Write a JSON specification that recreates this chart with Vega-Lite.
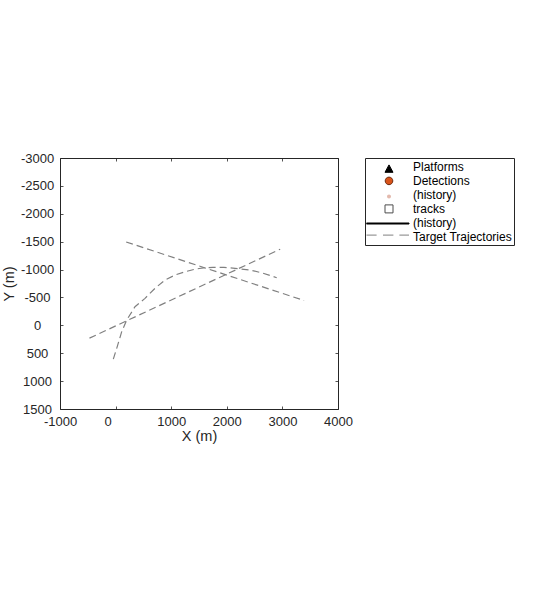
{
  "$schema": "https://vega.github.io/schema/vega-lite/v6.json",
  "description": "Target trajectories in the X-Y plane with a tracking legend.",
  "width": 278,
  "height": 251,
  "autosize": {"type": "none"},
  "padding": {"left": 60, "top": 158, "right": 215, "bottom": 181},
  "background": "white",
  "datasets": {
    "trajectories": [
      {"target": "T1", "step": 0, "x": 190, "y": -1495},
      {"target": "T1", "step": 1, "x": 3390, "y": -445},
      {"target": "T2", "step": 0, "x": -470, "y": 230},
      {"target": "T2", "step": 1, "x": 2960, "y": -1365},
      {"target": "T3", "step": 0, "x": -41, "y": 605},
      {"target": "T3", "step": 1, "x": 20, "y": 412},
      {"target": "T3", "step": 2, "x": 110, "y": 114},
      {"target": "T3", "step": 3, "x": 200, "y": -95},
      {"target": "T3", "step": 4, "x": 349, "y": -334},
      {"target": "T3", "step": 5, "x": 529, "y": -484},
      {"target": "T3", "step": 6, "x": 709, "y": -664},
      {"target": "T3", "step": 7, "x": 889, "y": -813},
      {"target": "T3", "step": 8, "x": 1069, "y": -902},
      {"target": "T3", "step": 9, "x": 1249, "y": -961},
      {"target": "T3", "step": 10, "x": 1420, "y": -1005},
      {"target": "T3", "step": 11, "x": 1578, "y": -1030},
      {"target": "T3", "step": 12, "x": 1750, "y": -1040},
      {"target": "T3", "step": 13, "x": 1950, "y": -1038},
      {"target": "T3", "step": 14, "x": 2150, "y": -1022},
      {"target": "T3", "step": 15, "x": 2418, "y": -992},
      {"target": "T3", "step": 16, "x": 2650, "y": -935},
      {"target": "T3", "step": 17, "x": 2898, "y": -854}
    ],
    "legendItems": [
      {"item": "Platforms"},
      {"item": "Detections"},
      {"item": "Detection history"},
      {"item": "tracks"},
      {"item": "Track history"},
      {"item": "Target Trajectories"}
    ]
  },
  "layer": [
    {
      "data": {"name": "trajectories"},
      "mark": {"type": "line", "color": "#808080", "strokeWidth": 1.2, "strokeDash": [7, 4]},
      "encoding": {
        "x": {
          "field": "x",
          "type": "quantitative",
          "scale": {"domain": [-1000, 4000], "nice": false, "zero": false},
          "axis": {
            "orient": "bottom",
            "title": "X (m)",
            "values": [-1000, 0, 1000, 2000, 3000, 4000],
            "labelExpr": "'' + datum.value",
            "labelFlush": false,
            "labelPadding": 9,
            "labelOffset": {"condition": {"test": "datum.value === 0", "value": -8}, "value": 0},
            "titlePadding": 1
          }
        },
        "y": {
          "field": "y",
          "type": "quantitative",
          "scale": {"domain": [-3000, 1500], "nice": false, "zero": false, "reverse": true},
          "axis": {
            "orient": "left",
            "title": "Y (m)",
            "values": [-3000, -2500, -2000, -1500, -1000, -500, 0, 500, 1000, 1500],
            "labelExpr": "'' + datum.value",
            "labelFlush": false,
            "labelAlign": "center",
            "labelPadding": 26,
            "titlePadding": 3.5
          }
        },
        "detail": {"field": "target"},
        "order": {"field": "step"}
      }
    },
    {
      "data": {"name": "legendItems"},
      "mark": {"type": "point", "filled": true, "opacity": 1},
      "encoding": {
        "x": {
          "field": "x",
          "type": "quantitative",
          "scale": {"domain": [-1000, 4000], "nice": false, "zero": false},
          "axis": {"orient": "top", "labels": false, "title": null, "values": [-1000, 0, 1000, 2000, 3000, 4000]}
        },
        "y": {
          "field": "y",
          "type": "quantitative",
          "scale": {"domain": [-3000, 1500], "nice": false, "zero": false, "reverse": true},
          "axis": {"orient": "right", "labels": false, "title": null, "values": [-3000, -2500, -2000, -1500, -1000, -500, 0, 500, 1000, 1500]}
        },
        "fill": {
          "field": "item",
          "type": "nominal",
          "scale": {
            "domain": ["Platforms", "Detections", "Detection history", "tracks", "Track history", "Target Trajectories"],
            "range": ["#000000", "#D95319", "#E3B9AD", "#FFFFFF", "#000000", "transparent"]
          },
          "legend": {"title": null, "labelExpr": "indexof(datum.label, 'history') >= 0 ? '(history)' : datum.label"}
        },
        "stroke": {
          "field": "item",
          "type": "nominal",
          "scale": {
            "domain": ["Platforms", "Detections", "Detection history", "tracks", "Track history", "Target Trajectories"],
            "range": ["#000000", "#6a2a10", "transparent", "#4d4d4d", "#000000", "#808080"]
          },
          "legend": {"title": null, "labelExpr": "indexof(datum.label, 'history') >= 0 ? '(history)' : datum.label"}
        },
        "shape": {
          "field": "item",
          "type": "nominal",
          "scale": {
            "domain": ["Platforms", "Detections", "Detection history", "tracks", "Track history", "Target Trajectories"],
            "range": [
              "M0.1,-0.08L0.3,0.29L-0.1,0.29Z",
              "M0.29,0.02A0.19,0.19,0,1,1,-0.09,0.02A0.19,0.19,0,1,1,0.29,0.02Z",
              "M0.2,0.1A0.1,0.1,0,1,1,0,0.1A0.1,0.1,0,1,1,0.2,0.1Z",
              "M-0.1,-0.18H0.3V0.22H-0.1Z",
              "M-1.05,0.025H1.1V0.075H-1.05Z",
              "M-1.05,-0.07H-0.52M-0.2,-0.07H0.32M0.62,-0.07H1.1"
            ]
          },
          "legend": {"title": null, "labelExpr": "indexof(datum.label, 'history') >= 0 ? '(history)' : datum.label"}
        }
      }
    }
  ],
  "config": {
    "font": "Liberation Sans",
    "view": {"stroke": "#262626", "strokeWidth": 1},
    "axis": {
      "domain": false,
      "grid": false,
      "tickSize": -3,
      "tickColor": "#262626",
      "tickWidth": 0.8,
      "labelFont": "Liberation Sans",
      "labelFontSize": 13,
      "labelColor": "#262626",
      "titleFont": "Liberation Sans",
      "titleFontSize": 14.5,
      "titleFontWeight": "normal",
      "titleColor": "#262626"
    },
    "legend": {
      "orient": "right",
      "offset": 26,
      "padding": 1.5,
      "strokeColor": "#262626",
      "fillColor": "white",
      "symbolSize": 1600,
      "symbolStrokeWidth": 1,
      "clipHeight": 14,
      "rowPadding": 0,
      "columns": 1,
      "labelFont": "Liberation Sans",
      "labelFontSize": 12,
      "labelColor": "#000000",
      "labelOffset": 5.5,
      "symbolOffset": 0
    }
  }
}
